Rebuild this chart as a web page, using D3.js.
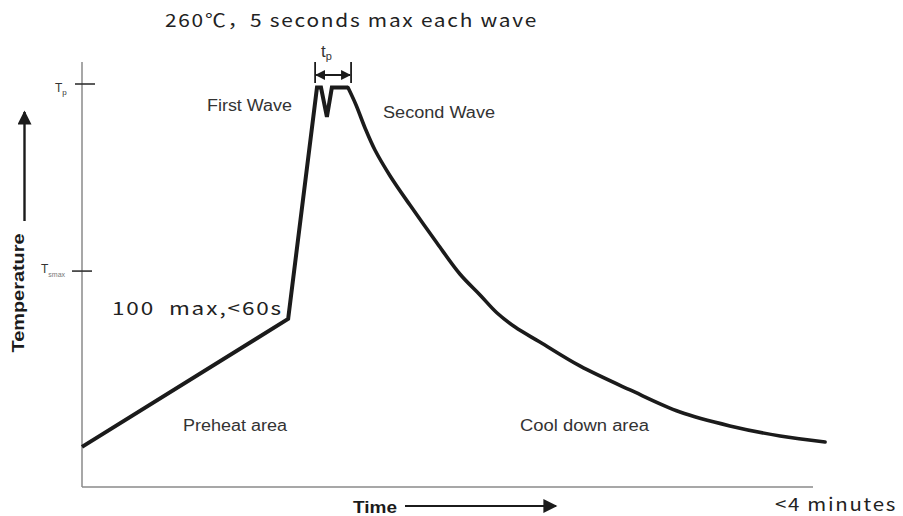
<!doctype html>
<html>
<head>
    <meta charset="utf-8">
    <title>Wave soldering profile</title>
    <script src="https://cdnjs.cloudflare.com/ajax/libs/d3/7.8.5/d3.min.js"></script>
    <style>
        body { margin: 0; background: #fff; }
        svg { display: block; }
        .lbl { font-family: "Liberation Sans", Arial, sans-serif; fill: #333; }
        .cjk { font-family: "Noto Sans CJK SC", sans-serif; fill: #222; white-space: pre; }
    </style>
</head>
<body>
<svg width="903" height="516"></svg>
<script>
    // data: time in seconds, temperature in degC (schematic profile)
    let timeDomain = [0, 240];
    let tempDomain = [0, 260];
    let tp = 260, tsmax = 140;

    // preheat ramp + the two wave peaks (straight segments)
    let rampTime = [0, 66.5, 75.8, 77.1, 79.0, 80.6, 85.8];
    let rampTemp = [26, 109, 259, 259, 240, 259, 259];

    // cool down curve
    let coolTime = [85.8, 88.4, 91.3, 94.5, 99.4, 105.8, 114.5, 121.9, 128.4, 133.9, 139.7, 147.7, 160.6, 176.8, 192.9, 209.0, 225.2, 239.7];
    let coolTemp = [259, 247.7, 232.8, 218.5, 201.7, 182.8, 158.2, 138.1, 124.5, 112.8, 103.7, 94.0, 78.5, 62.9, 48.6, 39.6, 33.1, 29.2];

    let svg = d3.select("svg");

    let x = d3.scaleLinear().domain(timeDomain).range([82, 826]);
    let y = d3.scaleLinear().domain(tempDomain).range([487, 86]);

    let axisColor = "#8a8a8a";

    // axis lines
    svg.append("line")
        .attr("x1", x(0)).attr("x2", x(0))
        .attr("y1", 62).attr("y2", y(0))
        .attr("stroke", axisColor).attr("stroke-width", 1.5);
    svg.append("line")
        .attr("x1", x(0)).attr("x2", 813)
        .attr("y1", y(0)).attr("y2", y(0))
        .attr("stroke", axisColor).attr("stroke-width", 1.5);

    // temperature ticks
    svg.append("line")
        .attr("x1", 75).attr("x2", 95)
        .attr("y1", y(tp) - 2).attr("y2", y(tp) - 2)
        .attr("stroke", "#333").attr("stroke-width", 1.6);
    svg.append("line")
        .attr("x1", 72).attr("x2", 92)
        .attr("y1", y(tsmax)).attr("y2", y(tsmax))
        .attr("stroke", "#333").attr("stroke-width", 1.6);

    let tpLbl = svg.append("text").attr("class", "lbl")
        .attr("x", 55).attr("y", y(tp) + 6).style("font-size", "12px");
    tpLbl.append("tspan").text("T");
    tpLbl.append("tspan").attr("dy", 3).style("font-size", "8px").text("p");

    let tsLbl = svg.append("text").attr("class", "lbl")
        .attr("x", 41).attr("y", y(tsmax) + 2).style("font-size", "12px");
    tsLbl.append("tspan").text("T");
    tsLbl.append("tspan").attr("dy", 4).style("font-size", "7px").style("fill", "#777").text("smax");

    // profile line
    let line = d3.line()
        .x(function(d) { return x(d[0]); })
        .y(function(d) { return y(d[1]); });

    let ramp = rampTime.map(function(t, i) { return [t, rampTemp[i]]; });
    let cool = coolTime.map(function(t, i) { return [t, coolTemp[i]]; });

    svg.append("path")
        .attr("d", line.curve(d3.curveLinear)(ramp))
        .attr("fill", "none").attr("stroke", "#1b1b1b")
        .attr("stroke-width", 4).attr("stroke-linejoin", "miter");
    svg.append("path")
        .attr("d", line.curve(d3.curveCatmullRom.alpha(0.5))(cool))
        .attr("fill", "none").attr("stroke", "#1b1b1b")
        .attr("stroke-width", 3.6).attr("stroke-linecap", "round");

    // markers
    let defs = svg.append("defs");
    defs.append("marker").attr("id", "ah")
        .attr("viewBox", "0 0 10 10").attr("refX", 9).attr("refY", 5)
        .attr("markerWidth", 10).attr("markerHeight", 10)
        .attr("markerUnits", "userSpaceOnUse")
        .attr("orient", "auto-start-reverse")
        .append("path").attr("d", "M0,0 L10,5 L0,10 z").attr("fill", "#1b1b1b");
    defs.append("marker").attr("id", "big")
        .attr("viewBox", "0 0 10 10").attr("refX", 9).attr("refY", 5)
        .attr("markerWidth", 15).attr("markerHeight", 14)
        .attr("markerUnits", "userSpaceOnUse")
        .attr("orient", "auto")
        .append("path").attr("d", "M0,0 L10,5 L0,10 z").attr("fill", "#1b1b1b");

    // tp bracket
    let bx1 = x(75.2), bx2 = x(86.8);
    [bx1, bx2].forEach(function(bx) {
        svg.append("line")
            .attr("x1", bx).attr("x2", bx).attr("y1", 62).attr("y2", 83)
            .attr("stroke", "#1b1b1b").attr("stroke-width", 1.8);
    });
    svg.append("line")
        .attr("x1", bx1 + 1).attr("x2", bx2 - 1).attr("y1", 75).attr("y2", 75)
        .attr("stroke", "#1b1b1b").attr("stroke-width", 2)
        .attr("marker-start", "url(#ah)").attr("marker-end", "url(#ah)");

    let tLbl = svg.append("text").attr("class", "lbl")
        .attr("x", 321).attr("y", 57).style("font-size", "17px");
    tLbl.append("tspan").text("t");
    tLbl.append("tspan").attr("dy", 3).style("font-size", "11px").text("p");

    // wave / area labels
    let labels = [
        {text: "First Wave", x: 207, y: 111, w: 85},
        {text: "Second Wave", x: 383, y: 118, w: 112},
        {text: "Preheat area", x: 183, y: 431, w: 104},
        {text: "Cool down area", x: 520, y: 431, w: 129}
    ];
    labels.forEach(function(l) {
        svg.append("text").attr("class", "lbl")
            .attr("x", l.x).attr("y", l.y)
            .attr("textLength", l.w).attr("lengthAdjust", "spacingAndGlyphs")
            .style("font-size", "16px")
            .text(l.text);
    });

    // annotations (wide set)
    let notes = [
        {text: "260℃，5 seconds max each wave", x: 165, y: 27, w: 373},
        {text: "100  max,<60s", x: 112, y: 315, w: 171},
        {text: "<4 minutes", x: 775, y: 511, w: 122}
    ];
    notes.forEach(function(n) {
        svg.append("text").attr("class", "cjk")
            .attr("x", n.x).attr("y", n.y)
            .attr("textLength", n.w).attr("lengthAdjust", "spacingAndGlyphs")
            .style("font-size", "18px")
            .style("letter-spacing", "1.5px")
            .text(n.text);
    });

    // axis titles with arrows
    svg.append("text").attr("class", "lbl")
        .attr("transform", "translate(24,293) rotate(-90)")
        .attr("text-anchor", "middle")
        .attr("textLength", 119).attr("lengthAdjust", "spacingAndGlyphs")
        .style("font-size", "17px").style("font-weight", "bold").style("fill", "#1b1b1b")
        .text("Temperature");
    svg.append("line")
        .attr("x1", 24.5).attr("x2", 24.5).attr("y1", 221).attr("y2", 112)
        .attr("stroke", "#1b1b1b").attr("stroke-width", 2.4)
        .attr("marker-end", "url(#big)");

    svg.append("text").attr("class", "lbl")
        .attr("x", 353).attr("y", 513)
        .attr("textLength", 44).attr("lengthAdjust", "spacingAndGlyphs")
        .style("font-size", "17px").style("font-weight", "bold").style("fill", "#1b1b1b")
        .text("Time");
    svg.append("line")
        .attr("x1", 405).attr("x2", 556).attr("y1", 506).attr("y2", 506)
        .attr("stroke", "#1b1b1b").attr("stroke-width", 1.8)
        .attr("marker-end", "url(#big)");
</script>
</body>
</html>
